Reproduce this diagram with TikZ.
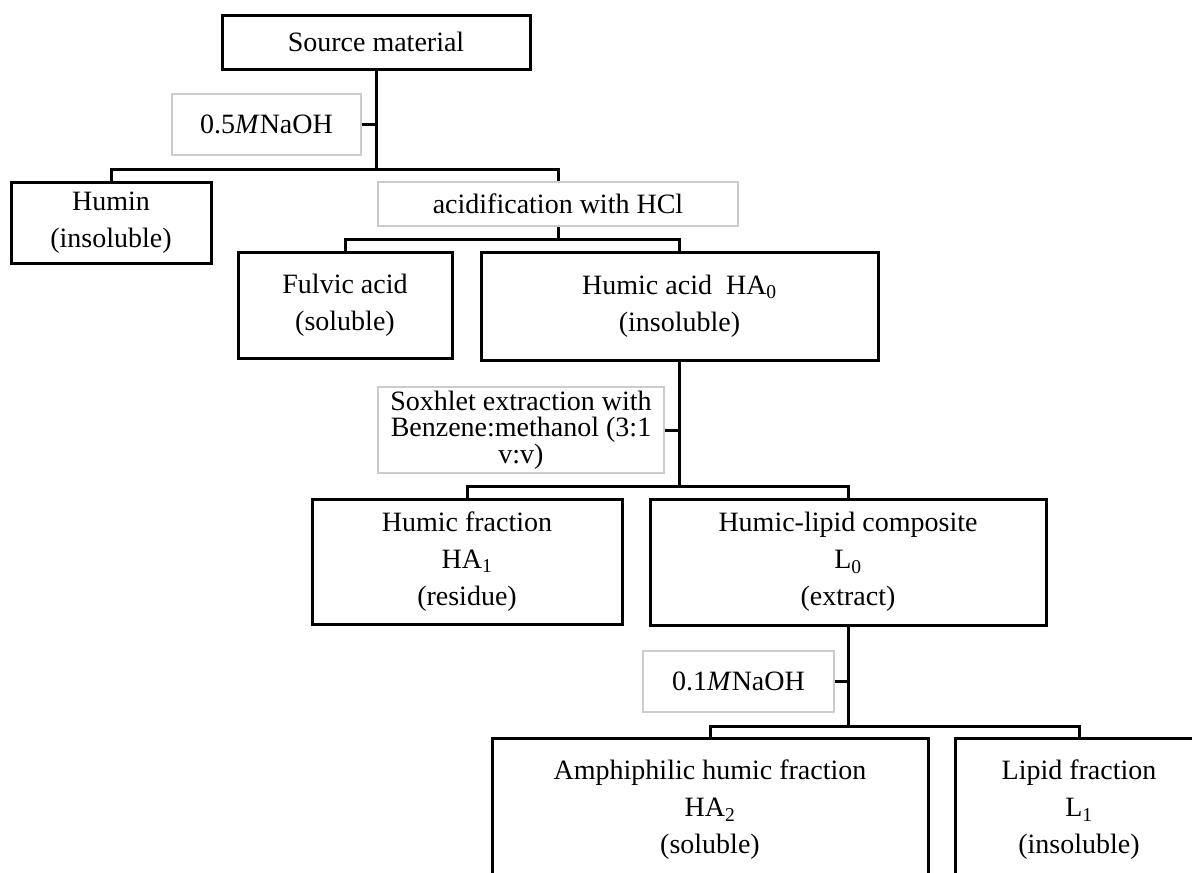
\documentclass[tikz,border=0pt]{standalone}
\usepackage{fontspec}
\setmainfont{Liberation Serif}
\begin{document}
\begin{tikzpicture}[x=1pt,y=-1pt,
  every node/.style={font=\fontsize{28}{37}\selectfont, inner sep=0pt, align=center},
  box/.style={draw=black, line width=3pt, fill=white},
  lab/.style={draw=black!20, line width=1.2pt, fill=white},
  link/.style={draw=black, line width=3pt}]
\useasboundingbox (0,0) rectangle (1192,873);
\clip (0,0) rectangle (1192,873);
% nodes
\node[box, minimum width=308pt, minimum height=54pt] (src) at (376,42) {Source material};
\node[lab, minimum width=189pt, minimum height=61pt] (naoh1) at (266.5,124.5) {0.5\textit{M}NaOH};
\node[box, minimum width=200pt, minimum height=81pt] (humin) at (111,222.5) {Humin\\(insoluble)};
\node[lab, minimum width=360pt, minimum height=44pt] (acid) at (558,204) {acidification with HCl};
\node[box, minimum width=214pt, minimum height=106pt] (fulvic) at (345,305) {Fulvic acid\\(soluble)};
\node[box, minimum width=397pt, minimum height=108pt] (humic) at (679.5,306) {Humic acid~~HA\textsubscript{0}\\(insoluble)};
\node[lab, minimum width=286pt, minimum height=86pt, font=\fontsize{28}{26.5}\selectfont] (soxh) at (521,430) {Soxhlet extraction with\\Benzene:methanol (3:1\\v:v)};
\node[box, minimum width=310pt, minimum height=125pt] (hfrac) at (467,561.5) {Humic fraction\\HA\textsubscript{1}\\(residue)};
\node[box, minimum width=396pt, minimum height=126pt] (hlip) at (848,562) {Humic-lipid composite\\L\textsubscript{0}\\(extract)};
\node[lab, minimum width=191pt, minimum height=61pt] (naoh2) at (738.5,681.5) {0.1\textit{M}NaOH};
\node[box, minimum width=436pt, minimum height=144pt] (amph) at (710,810) {Amphiphilic humic fraction\\HA\textsubscript{2}\\(soluble)};
\node[box, minimum width=248pt, minimum height=144pt] (lipid) at (1079,810) {Lipid fraction\\L\textsubscript{1}\\(insoluble)};
% junctions
\coordinate (j1) at (376,169);
\coordinate (j2) at (558,239.5);
\coordinate (j3) at (679.5,486);
\coordinate (j4) at (848,726.5);
% connectors
\draw[link] (src.south) -- (j1);
\draw[link] (humin.north) |- (j1) -| (acid.north);
\draw[link] (naoh1.east) -- (naoh1.east -| j1);
\draw[link] (acid.south) -- (j2);
\draw[link] (fulvic.north) |- (j2) -| (humic.north);
\draw[link] (humic.south) -- (j3);
\draw[link] (soxh.east) -- (soxh.east -| j3);
\draw[link] (hfrac.north) |- (j3) -| (hlip.north);
\draw[link] (hlip.south) -- (j4);
\draw[link] (naoh2.east) -- (naoh2.east -| j4);
\draw[link] (amph.north) |- (j4) -| (lipid.north);
\end{tikzpicture}
\end{document}
